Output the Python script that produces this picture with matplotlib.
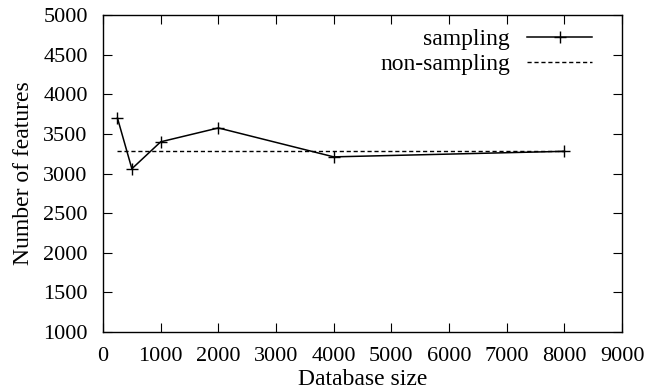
import matplotlib
matplotlib.use("Agg")
import matplotlib.pyplot as plt

# data
db_size = [250, 500, 1000, 2000, 4000, 8000]
sampling = [3700, 3060, 3400, 3575, 3210, 3280]
nonsamp_x = [250, 8000]
nonsamp_y = [3280, 3280]

plt.rcParams['font.family'] = ['Liberation Serif', 'DejaVu Serif']
plt.rcParams['font.size'] = 17

fig = plt.figure(figsize=(6.48, 3.9), dpi=100)
ax = fig.add_axes([0.159, 0.1487, 0.801, 0.8128])

ax.plot(db_size, sampling, color='k', linewidth=1.1, marker='+', markersize=9,
        markeredgewidth=1.0, label='sampling')
ax.plot(nonsamp_x, nonsamp_y, color='k', linewidth=1.0, linestyle=(0, (3, 2)),
        label='non-sampling')

ax.set_xlim(0, 9000)
ax.set_ylim(1000, 5000)
ax.set_xticks(range(0, 9001, 1000))
ax.set_yticks(range(1000, 5001, 500))
ax.tick_params(direction='in', top=True, right=True, length=6.5, width=0.8,
               pad=11, labelsize=16)
for s in ax.spines.values():
    s.set_linewidth(1)

ax.set_xlabel("Database size", labelpad=2)
ax.set_ylabel("Number of features", labelpad=7)

ax.legend(loc='upper right', bbox_to_anchor=(0.942, 0.958), frameon=False,
          markerfirst=False, handlelength=2.75, borderpad=0, borderaxespad=0,
          labelspacing=0.15, handletextpad=0.72)

fig.savefig("out.png", dpi=100)
